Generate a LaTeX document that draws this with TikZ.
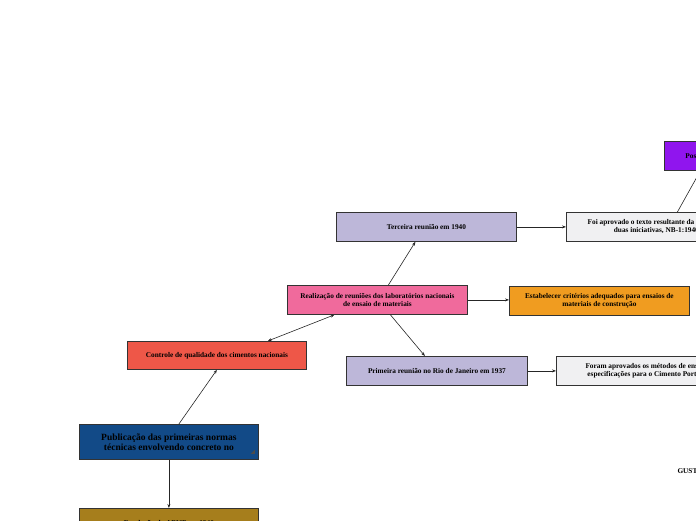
\documentclass[tikz,border=0pt]{standalone}
\usepackage{fontspec}
\setmainfont{Liberation Serif}
\usetikzlibrary{arrows.meta}
\tikzset{
  mybox/.style={draw=black!80, thick, rectangle, minimum height=29pt, align=center,
    font=\fontsize{7.3}{8}\selectfont\bfseries, inner sep=2pt},
  myarrow/.style={-{Stealth[length=4pt,width=3pt]}, black!85, semithick}
}
\definecolor{lilac}{HTML}{BDB7D9}
\definecolor{rosy}{HTML}{F06A9C}
\definecolor{orangebox}{HTML}{F09C20}
\definecolor{redbox}{HTML}{EE5748}
\definecolor{navybox}{HTML}{124A87}
\definecolor{goldbox}{HTML}{A67E1C}
\definecolor{violetbox}{HTML}{9015EE}
\definecolor{greybox}{HTML}{F0F0F2}
\begin{document}
\begin{tikzpicture}[x=1pt,y=-1pt]
\useasboundingbox (0,0) rectangle (696,520);
\clip (0,0) rectangle (696,520);
% boxes
\node [mybox, fill=violetbox, minimum width=90pt, anchor=north west] (post) at (664,141) {Posteriormente};
\node [mybox, fill=greybox, minimum width=180pt, anchor=north west] (fusao) at (566,212)
  {Foi aprovado o texto resultante da fusão das\\duas iniciativas, NB-1:1940};
\node [mybox, fill=lilac, minimum width=180pt, anchor=north west] (terceira) at (336,212) {Terceira reunião em 1940};
\node [mybox, fill=rosy, minimum width=180pt, anchor=north west] (reunioes) at (287,285)
  {Realização de reuniões dos laboratórios nacionais\\de ensaio de materiais};
\node [mybox, fill=orangebox, minimum width=180pt, anchor=north west] (criterios) at (509,286)
  {Estabelecer critérios adequados para ensaios de\\materiais de construção};
\node [mybox, fill=lilac, minimum width=181pt, anchor=north west] (primeira) at (346,356) {Primeira reunião no Rio de Janeiro em 1937};
\node [mybox, fill=greybox, minimum width=185pt, anchor=north west] (metodos) at (556,356)
  {Foram aprovados os métodos de ensaio e\\especificações para o Cimento Portland};
\node [mybox, fill=redbox, minimum width=179pt, minimum height=28pt, anchor=north west] (controle) at (127,341) {Controle de qualidade dos cimentos nacionais};
\node [mybox, fill=navybox, minimum width=179pt, minimum height=35pt, anchor=north west,
  font=\fontsize{9.5}{10}\selectfont\bfseries] (publicacao) at (79,424)
  {Publicação das primeiras normas\\técnicas envolvendo concreto no};
\fill [black!70] ([xshift=-8pt,yshift=6pt]publicacao.south east) -- ++(4,0) -- ++(0,-4) -- cycle;
\node [mybox, fill=goldbox, minimum width=179pt, minimum height=30pt, anchor=north west] (abnt) at (79,508) {\raisebox{-3pt}{Fundação da ABNT em 1940}};
\node [font=\fontsize{7.3}{8}\selectfont\bfseries, anchor=west] (autor) at (674,471) {GUSTAVO};
% connectors
\draw [myarrow] ([xshift=10pt]publicacao.north) -- (controle.south);
\draw [myarrow] (publicacao.south) -- (abnt.north);
\draw [{Stealth[length=4pt,width=3pt]}-{Stealth[length=4pt,width=3pt]}, black!85, semithick]
  ([xshift=-39pt]controle.north east) -- ([xshift=-43pt]reunioes.south);
\draw [myarrow] ([xshift=11pt]reunioes.north) -- ([xshift=-11pt]terceira.south);
\draw [myarrow] ([xshift=13pt]reunioes.south) -- ([xshift=-12pt]primeira.north);
\draw [myarrow] (reunioes.east) -- (reunioes.east -| criterios.west);
\draw [myarrow] (terceira.east) -- (fusao.west);
\draw [myarrow] (primeira.east) -- (metodos.west);
\draw [black!85, semithick] ([xshift=21pt]fusao.north) -- ([xshift=-9pt]post.south);
\end{tikzpicture}
\end{document}
